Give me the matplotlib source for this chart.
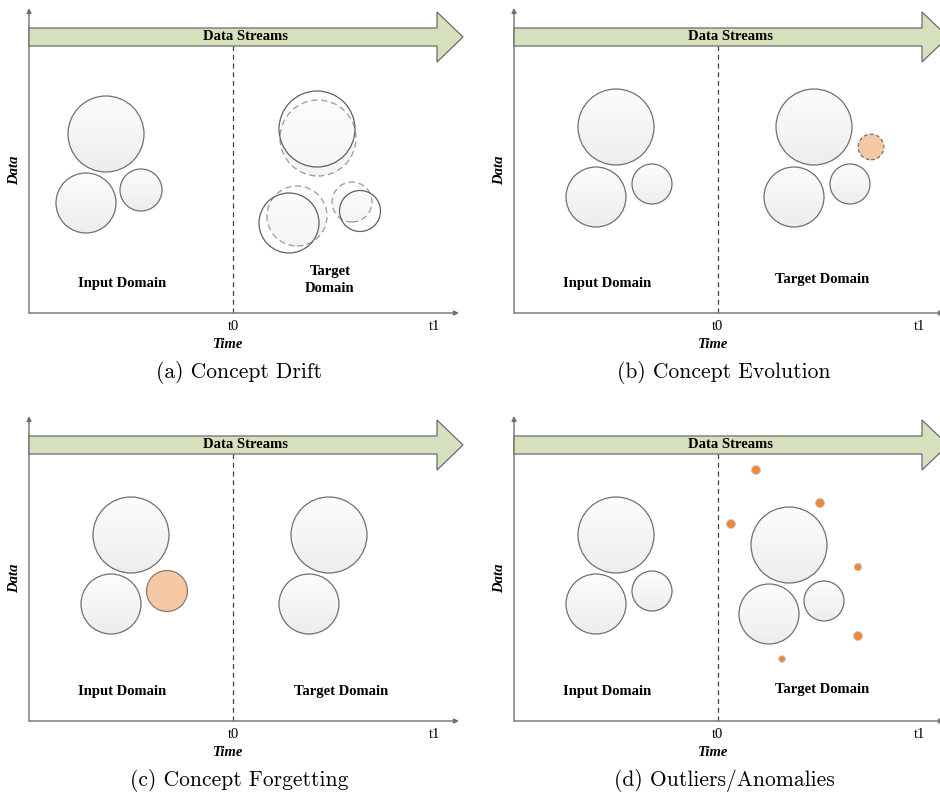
import matplotlib.pyplot as plt
import numpy as np
from matplotlib.patches import Circle, Polygon

# Panel captions and the domain labels
captions = ['(a) Concept Drift', '(b) Concept Evolution',
            '(c) Concept Forgetting', '(d) Outliers/Anomalies']
target_labels = ['Target\nDomain', 'Target Domain', 'Target Domain', 'Target Domain']
tick_labels = ['t0', 't1']
tick_pos = [204, 406]

# Circles per panel: (x, y, radius), local coords with origin at the axes corner
input_circles = [
    [(77, 179, 38), (57, 110, 30), (112, 123, 21)],
    [(102, 186, 38), (82, 116, 30), (138, 129, 20)],
    [(102, 186, 38), (82, 117, 30)],
    [(102, 186, 38), (82, 117, 30), (138, 130, 20)],
]
target_circles = [
    [(288, 184, 38), (260, 90, 30), (331, 102, 20.5)],
    [(300, 186, 38), (280, 116, 30), (336, 129, 20)],
    [(300, 186, 38), (280, 117, 30)],
    [(275, 176, 38), (255, 107, 30), (310, 120, 20)],
]
# old positions of drifted concepts (a), dashed
drift_circles = [(289, 175, 38), (268, 97, 30), (323, 111, 20)]
# new concept (b), forgotten concept (c)
new_concept = (357, 166, 12.8)
forgotten_concept = (138, 130, 20.5)
# outliers (d)
outlier_x = [242, 306, 217, 344, 344, 268]
outlier_y = [251, 218, 197, 154, 85, 62]
outlier_r = [4.5, 4.5, 4.5, 3.7, 4.5, 3.3]

# panel origins in pixels (y axis x, x axis y)
origins = [(29, 313), (514, 313), (29, 721), (514, 721)]

W, H = 940, 795
fig = plt.figure(figsize=(W / 100, H / 100), dpi=100)

serif = ['Liberation Serif', 'DejaVu Serif']
grad = np.linspace(0, 1, 64).reshape(-1, 1)


def bubble(ax, x, y, r, face=None, edge='#707070', ls='-', alpha=1.0, z=2):
    if face is None:
        # light vertical gradient, white on top
        c = Circle((x, y), r, facecolor='none', edgecolor='none')
        ax.add_patch(c)
        im = ax.imshow(grad, cmap='Greys', vmin=-0.2, vmax=8, origin='upper',
                       extent=(x - r, x + r, y - r, y + r), zorder=z,
                       alpha=alpha, interpolation='bilinear')
        im.set_clip_path(c)
        ax.add_patch(Circle((x, y), r, facecolor='none', edgecolor=edge,
                            lw=0.9, ls=ls, zorder=z + 0.1))
    else:
        ax.add_patch(Circle((x, y), r, facecolor=face, edgecolor=edge,
                            lw=0.9, ls=ls, zorder=z + 0.1))


for i, (x0, y0) in enumerate(origins):
    ax = fig.add_axes([(x0 - 30) / W, (H - (y0 + 80)) / H, 470 / W, 395 / H])
    ax.set_xlim(-30, 440)
    ax.set_ylim(-80, 315)
    ax.set_aspect('equal')
    ax.axis('off')

    # axes arrows
    ax.annotate('', xy=(0, 305), xytext=(0, 0),
                arrowprops=dict(arrowstyle='-|>', color='#707070', lw=1.0,
                                mutation_scale=7, shrinkA=0, shrinkB=0))
    ax.annotate('', xy=(430, 0), xytext=(0, 0),
                arrowprops=dict(arrowstyle='-|>', color='#707070', lw=1.0,
                                mutation_scale=7, shrinkA=0, shrinkB=0))

    # data streams arrow
    ax.add_patch(Polygon([(0, 267), (408, 267), (408, 251), (434, 276),
                          (408, 301), (408, 285), (0, 285)], closed=True,
                         facecolor='#d7e0bd', edgecolor='#6a6a6a', lw=0.9, zorder=3))
    ax.text(216, 276, 'Data Streams', ha='center', va='center', fontsize=10.5,
            fontweight='bold', family=serif, zorder=4)

    # t0 divider
    ax.plot([204, 204], [0, 267], color='#444444', lw=0.9, ls=(0, (4, 3)))

    for p, t in zip(tick_pos, tick_labels):
        ax.text(p, -13, t, ha='center', va='center', fontsize=10.5, family=serif)
    ax.text(199, -31, 'Time', ha='center', va='center', fontsize=10.5,
            fontweight='bold', style='italic', family=serif)
    ax.text(-14, 143, 'Data', ha='center', va='center', fontsize=10.5, rotation=90,
            fontweight='bold', style='italic', family=serif)
    ax.text(210, -60, captions[i], ha='center', va='center', fontsize=15.5,
            family=['cmr10', 'DejaVu Serif'])

    ax.text(93, 29, 'Input Domain', ha='center', va='center', fontsize=10.5,
            fontweight='bold', family=serif)
    tx = [301, 308, 312, 308][i]
    ty = [33, 33, 29, 32][i]
    ax.text(tx, ty, target_labels[i], ha='center', va='center', fontsize=10.5,
            fontweight='bold', family=serif, linespacing=1.3)

    for (cx, cy, r) in input_circles[i]:
        bubble(ax, cx, cy, r)
    if i == 0:
        for (cx, cy, r) in drift_circles:
            bubble(ax, cx, cy, r, edge='#9a9a9a', ls=(0, (5, 3)), alpha=0.6, z=2)
    for (cx, cy, r) in target_circles[i]:
        if i == 0:
            ax.add_patch(Circle((cx, cy), r, facecolor='none', edgecolor='#606060',
                                lw=0.9, zorder=3))
        else:
            bubble(ax, cx, cy, r)
    if i == 1:
        bubble(ax, *new_concept, face='#f5c8a3', edge='#707070', ls=(0, (3, 2)))
    if i == 2:
        bubble(ax, *forgotten_concept, face='#f5c8a3', edge='#8a7a70')
    if i == 3:
        for ox, oy, r in zip(outlier_x, outlier_y, outlier_r):
            ax.add_patch(Circle((ox, oy), r, facecolor='#eb8a3a',
                                edgecolor='#c9c9c9', lw=0.6, zorder=4))

fig.savefig('out.png', dpi=100)
